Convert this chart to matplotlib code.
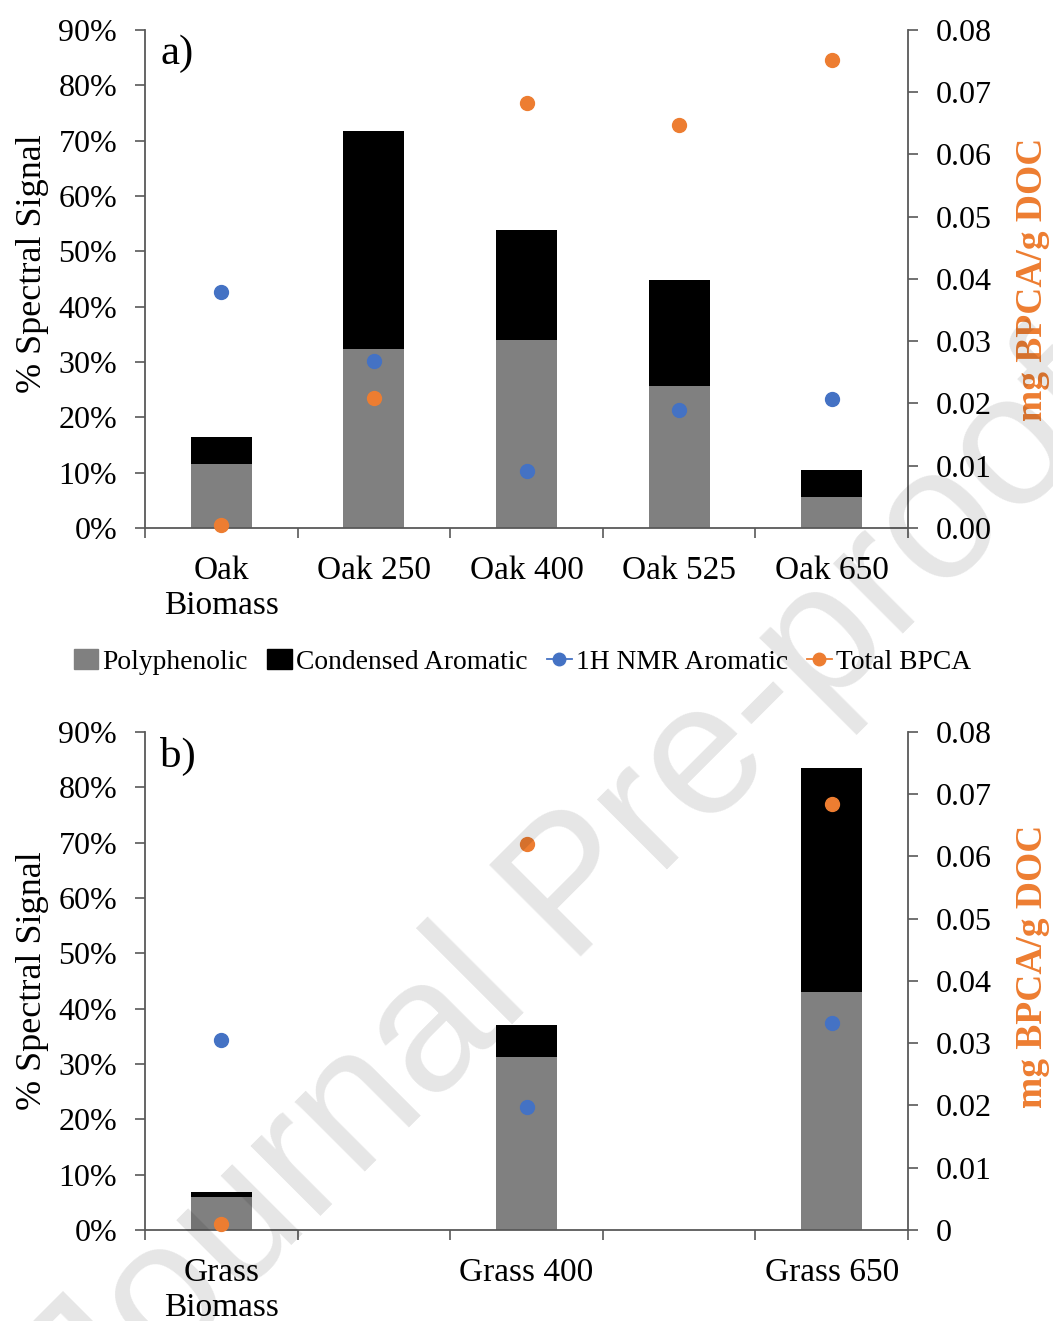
import numpy as np
import matplotlib
matplotlib.use("Agg")
import matplotlib.pyplot as plt
from matplotlib.lines import Line2D
from matplotlib.patches import Patch
from matplotlib.ticker import FuncFormatter

plt.rcParams['font.family'] = ['Liberation Serif', 'DejaVu Serif']

# panel a) oak
oak_labels = ['Oak\nBiomass', 'Oak 250', 'Oak 400', 'Oak 525', 'Oak 650']
oak_poly = [11.6, 32.4, 34.0, 25.7, 5.6]        # % polyphenolic
oak_cond = [4.8, 39.3, 19.9, 19.1, 4.9]         # % condensed aromatic
oak_nmr = [42.6, 30.2, 10.3, 21.3, 23.3]        # % 1H NMR aromatic
oak_bpca = [0.0005, 0.0209, 0.0683, 0.0647, 0.0752]  # mg BPCA/g DOC

# panel b) grass
grass_labels = ['Grass\nBiomass', 'Grass 400', 'Grass 650']
grass_poly = [6.0, 31.3, 43.0]
grass_cond = [0.9, 5.7, 40.5]
grass_nmr = [34.3, 22.2, 37.4]
grass_bpca = [0.001, 0.062, 0.0684]

right_labels_a = ['0.00', '0.01', '0.02', '0.03', '0.04', '0.05', '0.06', '0.07', '0.08']
right_labels_b = ['0', '0.01', '0.02', '0.03', '0.04', '0.05', '0.06', '0.07', '0.08']

grey = '#808080'
blue = '#4472C4'
orange = '#ED7D31'
axcol = '#595959'


def draw_panel(ax, x, labels, poly, cond, nmr, bpca, rlabels, tag, ly, ry):
    ax.bar(x, poly, width=0.4, color=grey, zorder=2)
    ax.bar(x, cond, width=0.4, bottom=poly, color='black', zorder=2)
    ax.plot(x, nmr, 'o', ls='none', color=blue, ms=10, zorder=3, clip_on=False)

    ax.set_xlim(-0.5, 4.5)
    ax.set_ylim(0, 90)
    ax.set_yticks(np.arange(0, 91, 10))
    ax.yaxis.set_major_formatter(FuncFormatter(lambda v, p: f'{v:.0f}%'))
    ax.set_xticks(x)
    ax.set_xticklabels(labels)
    ax.set_xticks(np.arange(-0.5, 4.6, 1), minor=True)
    ax.tick_params(axis='x', which='major', length=0, pad=20, labelsize=24)
    ax.tick_params(axis='x', which='minor', length=7, width=1.2, color=axcol)
    ax.tick_params(axis='y', length=7, width=1.2, color=axcol, pad=13, labelsize=23)
    for s in ['top', 'right']:
        ax.spines[s].set_visible(False)
    for s in ['left', 'bottom']:
        ax.spines[s].set_color(axcol)
        ax.spines[s].set_linewidth(1.3)
    ax.set_ylabel('% Spectral Signal', fontsize=26)
    ax.yaxis.set_label_coords(-0.126, ly)
    ax.text(0.02, 0.99, tag, transform=ax.transAxes, fontsize=31, va='top', ha='left')

    ax2 = ax.twinx()
    ax2.plot(x, bpca, 'o', ls='none', color=orange, ms=10, zorder=3, clip_on=False)
    ax2.set_ylim(0, 0.08)
    ax2.set_yticks(np.linspace(0, 0.08, 9))
    ax2.set_yticklabels(rlabels)
    ax2.tick_params(axis='y', length=7, width=1.2, color=axcol, pad=13, labelsize=23)
    for s in ['top', 'left', 'bottom']:
        ax2.spines[s].set_visible(False)
    ax2.spines['right'].set_color(axcol)
    ax2.spines['right'].set_linewidth(1.3)
    ax2.set_ylabel('mg BPCA/g DOC', color=orange, fontweight='bold', fontsize=27)
    ax2.yaxis.set_label_coords(1.14, ry)
    return ax2


fig = plt.figure(figsize=(10.53, 13.21), dpi=100)
ax_a = fig.add_axes([0.1377, 0.6003, 0.7246, 0.377])
ax_b = fig.add_axes([0.1377, 0.0689, 0.7246, 0.377])

draw_panel(ax_a, np.arange(len(oak_labels)), oak_labels, oak_poly, oak_cond,
           oak_nmr, oak_bpca, right_labels_a, 'a)', 0.53, 0.5)
# grass samples sit in every second slot of the same 5-slot axis
draw_panel(ax_b, np.arange(len(grass_labels)) * 2, grass_labels, grass_poly, grass_cond,
           grass_nmr, grass_bpca, right_labels_b, 'b)', 0.5, 0.53)

handles = [
    Patch(color=grey),
    Patch(color='black'),
    Line2D([], [], color=blue, marker='o', ms=9, lw=1.3),
    Line2D([], [], color=orange, marker='o', ms=9, lw=1.3),
]
names = ['Polyphenolic', 'Condensed Aromatic', '1H NMR Aromatic', 'Total BPCA']
fig.legend(handles, names, loc='center', bbox_to_anchor=(0.496, 1 - 662 / 1321),
           ncol=4, frameon=False, fontsize=19.8, handlelength=0.9,
           handletextpad=0.15, columnspacing=0.7)

# journal watermark
fig.text(0.547, 0.325, 'Journal Pre-proof', rotation=45, rotation_mode='anchor',
         ha='center', va='center', fontsize=135, family='Liberation Sans',
         color='black', alpha=0.1, zorder=10)

fig.savefig('out.png', dpi=100)
